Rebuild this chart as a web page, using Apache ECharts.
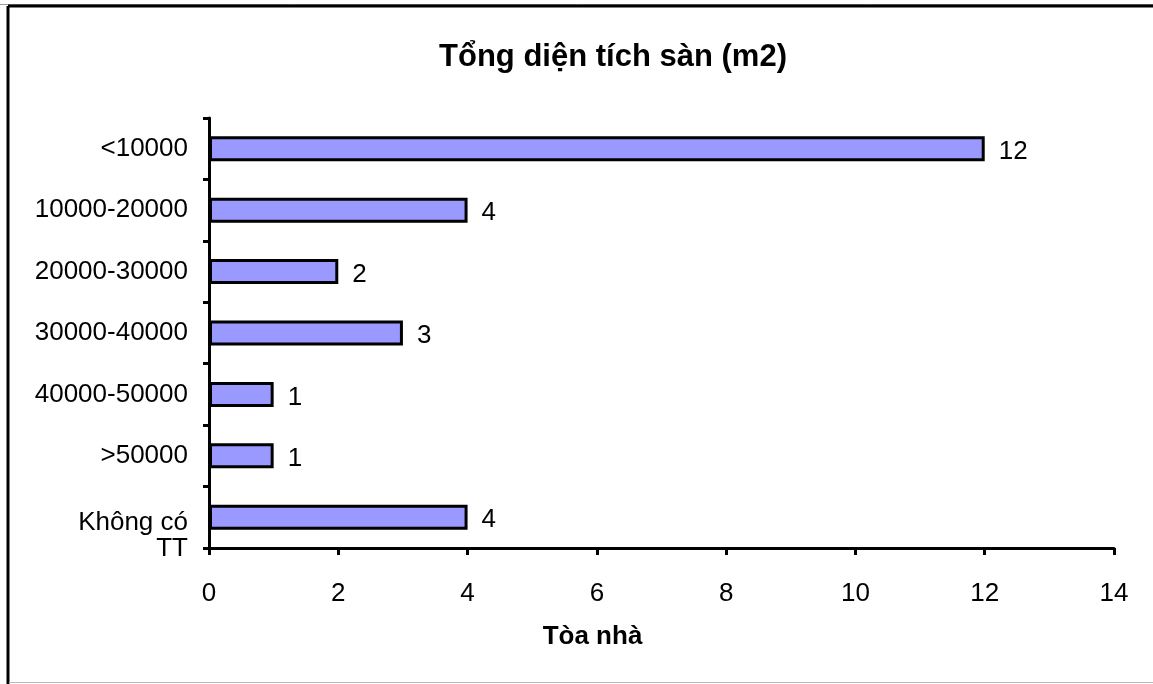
<!DOCTYPE html>
<html>
<head>
<meta charset="utf-8">
<script src="https://cdn.jsdelivr.net/npm/echarts@6/dist/echarts.min.js"></script>
<style>
  html, body { margin: 0; padding: 0; background: #fff; }
  #chart { width: 1153px; height: 684px; }
</style>
</head>
<body>
<div id="chart"></div>
<script>
// Floor-area bands and the number of buildings in each
const categories = ['<10000', '10000-20000', '20000-30000', '30000-40000', '40000-50000', '>50000', 'Không có\nTT'];
const buildingCounts = [12, 4, 2, 3, 1, 1, 4];
const xTicks = [0, 2, 4, 6, 8, 10, 12, 14];

const chartTitle = 'Tổng diện tích sàn (m2)';
const xAxisTitle = 'Tòa nhà';

const FONT = '"Liberation Sans", Arial, sans-serif';

const chart = echarts.init(document.getElementById('chart'), null, { renderer: 'canvas' });

chart.setOption({
  backgroundColor: '#ffffff',
  animation: false,
  title: {
    text: chartTitle,
    left: 608,
    top: 37,
    textAlign: 'center',
    textStyle: { fontFamily: FONT, fontSize: 31, fontWeight: 'bold', color: '#000' }
  },
  grid: { left: 209, right: 39, top: 118, bottom: 136, containLabel: false },
  xAxis: {
    type: 'value',
    min: xTicks[0],
    max: xTicks[xTicks.length - 1],
    interval: 2,
    name: xAxisTitle,
    nameLocation: 'middle',
    nameGap: 76,
    nameTextStyle: { fontFamily: FONT, fontSize: 26, fontWeight: 'bold', color: '#000', padding: [0, 0, 0, -138] },
    axisLine: { show: true, lineStyle: { color: '#000', width: 3 } },
    axisTick: { show: true, length: 7, lineStyle: { color: '#000', width: 3 } },
    axisLabel: { margin: 33, fontFamily: FONT, fontSize: 26, color: '#000' },
    splitLine: { show: false }
  },
  yAxis: {
    type: 'category',
    data: categories,
    inverse: true,
    axisLine: { show: true, lineStyle: { color: '#000', width: 3 } },
    axisTick: { show: true, length: 6, lineStyle: { color: '#000', width: 3 } },
    axisLabel: {
      margin: 21,
      fontFamily: FONT,
      fontSize: 26,
      color: '#000',
      align: 'right',
      // a wrapped label is pushed down in its band by an empty spacer line
      formatter: function (v) {
        if (v.indexOf('\n') < 0) return '{t|' + v + '}';
        return '{gap| }\n' + v.split('\n').map(function (s) { return '{t|' + s + '}'; }).join('\n');
      },
      rich: {
        t: { fontFamily: FONT, fontSize: 26, lineHeight: 26, color: '#000' },
        gap: { fontSize: 1, lineHeight: 37 }
      }
    }
  },
  series: [{
    type: 'bar',
    data: buildingCounts,
    barWidth: 25,
    itemStyle: { color: '#9999FF', borderColor: '#000', borderWidth: 3 },
    label: {
      show: true,
      position: 'right',
      distance: 14,
      offset: [0, 3],
      fontFamily: FONT,
      fontSize: 26,
      color: '#000'
    }
  }],
  graphic: [
    { type: 'line', shape: { x1: 0, y1: 4.5, x2: 1153, y2: 4.5 }, style: { stroke: '#999', lineWidth: 1 } },
    { type: 'line', shape: { x1: 8, y1: 6, x2: 1153, y2: 6 }, style: { stroke: '#000', lineWidth: 3 } },
    { type: 'line', shape: { x1: 8, y1: 6, x2: 8, y2: 684 }, style: { stroke: '#000', lineWidth: 3 } },
    { type: 'line', shape: { x1: 9, y1: 682.5, x2: 1153, y2: 682.5 }, style: { stroke: '#bbb', lineWidth: 1 } }
  ]
});
</script>
</body>
</html>
